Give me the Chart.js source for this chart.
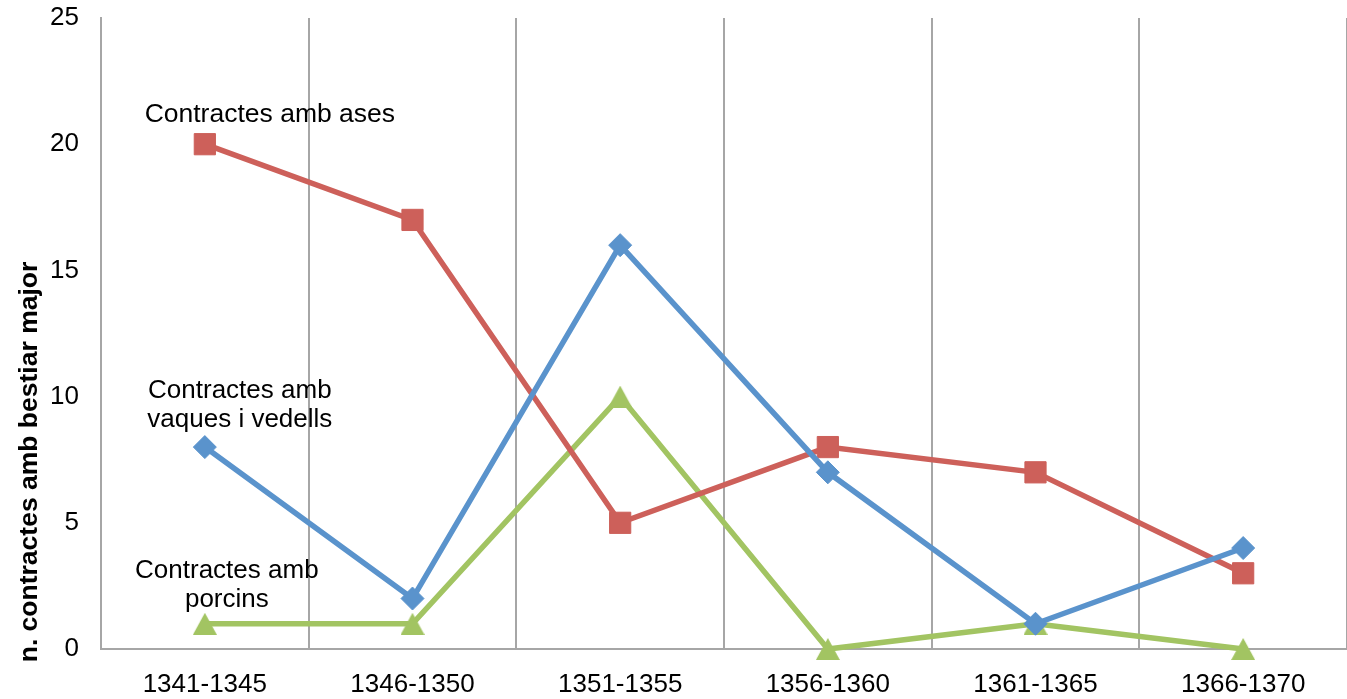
<!DOCTYPE html>
<html>
<head>
<meta charset="utf-8">
<script src="https://cdn.jsdelivr.net/npm/chart.js@4/dist/chart.umd.min.js"></script>
<style>
html,body{margin:0;padding:0;background:#fff;overflow:hidden;}
canvas{display:block;}
</style>
</head>
<body>
<canvas id="c" width="1347" height="699" style="width:1347px;height:699px;"></canvas>
<script>
// ---- data ----
const categories = ["1341-1345","1346-1350","1351-1355","1356-1360","1361-1365","1366-1370"];
const vaquesValues = [8, 2, 16, 7, 1, 4];
const asesValues = [20, 17, 5, 8, 7, 3];
const porcinsValues = [1, 1, 10, 0, 1, 0];
const yTicks = [0, 5, 10, 15, 20, 25];
const yTitle = "n. contractes amb bestiar major";
const vaquesLabel = ["Contractes amb", "vaques i vedells"];
const asesLabel = ["Contractes amb ases"];
const porcinsLabel = ["Contractes amb", "porcins"];

const FONT = "'Liberation Sans', Arial, sans-serif";
const BLUE = "#5A93CC", RED = "#CD605A", GREEN = "#A2C462";
const GRID = "#a6a6a6";

// triangle marker centred on its bounding box
function triImg(color){
  const cv = document.createElement('canvas');
  cv.width = 24; cv.height = 22;
  const g = cv.getContext('2d');
  g.fillStyle = color;
  g.beginPath(); g.moveTo(12,0); g.lineTo(24,22); g.lineTo(0,22); g.closePath(); g.fill();
  return cv;
}

// annotation labels, anchored on the first point of each series
const annotations = [
  {ds: 1, lines: asesLabel, dx: 65, dy: [-22], size: 26.5},
  {ds: 0, lines: vaquesLabel, dx: 35, dy: [-49, -20], size: 26},
  {ds: 2, lines: porcinsLabel, dx: 22, dy: [-46, -17], size: 26}
];

const labelPlugin = {
  id: 'labels',
  afterDatasetsDraw(chart){
    const ctx = chart.ctx;
    const xs = chart.scales.x, ys = chart.scales.y;
    ctx.save();
    ctx.fillStyle = '#000';
    ctx.textAlign = 'center';
    ctx.textBaseline = 'alphabetic';
    annotations.forEach(a => {
      const v = chart.data.datasets[a.ds].data[0];
      const px = xs.getPixelForValue(0), py = ys.getPixelForValue(v);
      ctx.font = a.size + "px " + FONT;
      a.lines.forEach((t, i) => ctx.fillText(t, px + a.dx, py + a.dy[i]));
    });
    // y axis title
    ctx.translate(30, 462);
    ctx.rotate(-Math.PI/2);
    ctx.font = "bold 26.5px " + FONT;
    ctx.textBaseline = 'middle';
    ctx.fillText(yTitle, 0, 0);
    ctx.restore();
  }
};

new Chart(document.getElementById('c'), {
  type: 'line',
  data: {
    labels: categories,
    datasets: [
      {label: vaquesLabel.join(' '), data: vaquesValues, borderColor: BLUE, backgroundColor: BLUE, clip: false,
       borderWidth: 5.5, pointStyle: 'rectRot', pointRadius: 11.5, pointBorderWidth: 1, pointBorderColor: BLUE, pointBackgroundColor: BLUE},
      {label: asesLabel.join(' '), data: asesValues, borderColor: RED, backgroundColor: RED, clip: false,
       borderWidth: 5.5, pointStyle: 'rect', pointRadius: 15, pointBorderWidth: 1, pointBorderColor: RED, pointBackgroundColor: RED},
      {label: porcinsLabel.join(' '), data: porcinsValues, borderColor: GREEN, backgroundColor: GREEN, clip: false,
       borderWidth: 5.5, pointStyle: triImg(GREEN), pointRadius: 12}
    ]
  },
  options: {
    responsive: false,
    maintainAspectRatio: false,
    animation: false,
    devicePixelRatio: 1,
    layout: {autoPadding: false, padding: {top: 18, right: 0, left: 0, bottom: 0}},
    plugins: {legend: {display: false}, tooltip: {enabled: false}},
    elements: {line: {tension: 0}},
    scales: {
      x: {
        offset: true,
        grid: {offset: true, color: GRID, lineWidth: 2, drawTicks: false},
        border: {display: true, color: GRID, width: 2},
        ticks: {color: '#000', font: {family: FONT, size: 26}, padding: 20, maxRotation: 0},
        afterFit(s){ s.height = 50; s.paddingLeft = 0; s.paddingRight = 0; }
      },
      y: {
        min: 0, max: 25,
        grid: {display: false, drawTicks: false},
        border: {display: true, color: GRID, width: 2},
        afterBuildTicks(s){ s.ticks = yTicks.map(v => ({value: v})); },
        ticks: {color: '#000', font: {family: FONT, size: 26}, padding: 22},
        afterFit(s){ s.width = 101; s.paddingTop = 0; s.paddingBottom = 0; }
      }
    }
  },
  plugins: [labelPlugin]
});
</script>
</body>
</html>
